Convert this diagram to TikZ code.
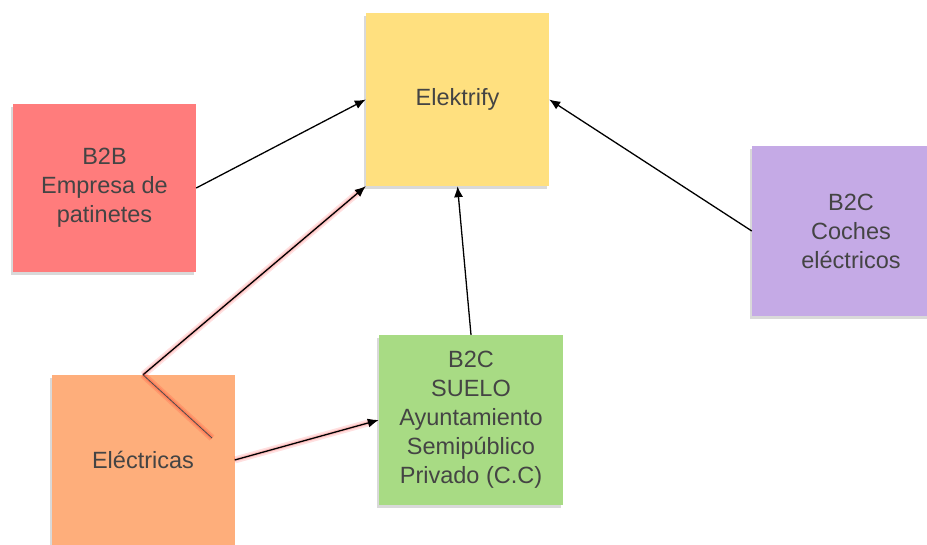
\documentclass[tikz,border=0pt]{standalone}
\usepackage{fontspec}
\setmainfont{Liberation Sans}
\usepackage{tikz}
\usetikzlibrary{arrows.meta,shadows}
\definecolor{noteyellow}{HTML}{FFE07F}
\definecolor{notered}{HTML}{FF7C7C}
\definecolor{notepurple}{HTML}{C5AAE6}
\definecolor{notegreen}{HTML}{A8DB84}
\definecolor{noteorange}{HTML}{FEAE7B}
\definecolor{txtgray}{HTML}{444444}

\begin{document}
\begin{tikzpicture}[
      x=1pt, y=-1pt,
      every node/.style={font=\fontsize{23.5}{29}\selectfont, text=txtgray},
      note/.style={rectangle, align=center, minimum width=183pt, minimum height=170pt,
                   drop shadow={shadow xshift=-2pt, shadow yshift=-3pt, opacity=0.3}},
      ar/.style={-{Latex[length=11pt, width=9pt]}, line width=1.3pt},
      glow/.style={preaction={draw, red, opacity=0.12, line width=7pt},
                   preaction={draw, red, opacity=0.15, line width=3.5pt}}
    ]
    \useasboundingbox (0,0) rectangle (927,544);
    \node[note, fill=noteyellow, minimum height=173pt] (elek) at (457.5,99.5) {Elektrify};
    \node[note, fill=notered, minimum height=168pt] (b2b) at (104.5,188) {B2B\\Empresa de\\patinetes};
    \node[note, fill=notepurple, minimum width=198pt] (coches) at (851,231) {B2C\\Coches\\eléctricos};
    \node[note, fill=notegreen, minimum width=184pt] (suelo) at (471,420) {B2C\\SUELO\\Ayuntamiento\\Semipúblico\\Privado (C.C)};
    \node[note, fill=noteorange] (elec) at (143,460) {Eléctricas};
    \coordinate (fold) at (212,438);

    \draw[ar] (b2b.east) -- (elek.west);
    \draw[ar] (coches.west) -- (elek.east);
    \draw[ar] (suelo.north) -- (elek.south);
    \draw[ar, glow] (elec.north) -- (elek.south west);
    \draw[ar, glow] (elec.east) -- (suelo.west);
    \draw[black!70, line width=0.8pt, glow] (elec.north) -- (fold);
  \end{tikzpicture}
\end{document}
